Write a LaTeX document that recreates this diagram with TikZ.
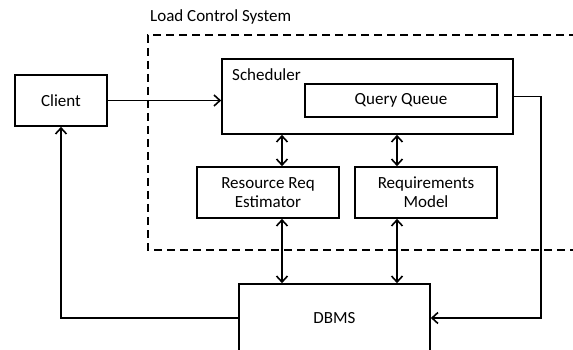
\documentclass[tikz,border=0pt]{standalone}
\usepackage{fontspec}
\setmainfont{Carlito}
\usetikzlibrary{arrows.meta}
\tikzset{
  box/.style={draw, line width=1.6pt, inner sep=0pt, font=\fontsize{17}{19}\selectfont},
  txt/.style={inner sep=0pt, font=\fontsize{17}{19}\selectfont},
  link/.style={line width=1.6pt, -{Straight Barb[length=6pt,width=11pt]}},
  biglink/.style={line width=1.6pt, {Straight Barb[length=6pt,width=11pt]}-{Straight Barb[length=6pt,width=11pt]}},
}
\begin{document}
\begin{tikzpicture}[x=1pt,y=-1pt]
\useasboundingbox (0,0) rectangle (573,350);
\clip (0,0) rectangle (573,350);
\node[txt, anchor=west] (lcs) at (150,17) {Load Control System};
\draw[line width=1.6pt, dash pattern=on 8pt off 5pt] (590,35) -- (148,35) -- (148,250) -- (590,250);
\node[box, minimum width=92pt, minimum height=51pt] (client) at (61,100.5) {Client};
\node[box, minimum width=291pt, minimum height=75pt] (sched) at (367.5,96.5) {};
\node[txt, anchor=west] (schedlbl) at (232,75) {Scheduler};
\node[box, minimum width=192pt, minimum height=33pt] (queue) at (401,100.5) {Query Queue};
\node[box, minimum width=142pt, minimum height=51pt, align=center] (resest) at (268,192.5) {Resource Req\\Estimator};
\node[box, minimum width=142pt, minimum height=51pt, align=center] (reqmod) at (426,192.5) {Requirements\\Model};
\node[box, minimum width=191pt, minimum height=68pt] (dbms) at (334.5,318) {DBMS};
\draw[link] (client.east) -- (client.east -| sched.west);
\draw[biglink] ([xshift=14pt]resest.north) -- ([xshift=14pt]resest.north |- sched.south);
\draw[biglink] ([xshift=-29pt]reqmod.north) -- ([xshift=-29pt]reqmod.north |- sched.south);
\draw[biglink] ([xshift=14pt]resest.south) -- ([xshift=14pt]resest.south |- dbms.north);
\draw[biglink] ([xshift=-29pt]reqmod.south) -- ([xshift=-29pt]reqmod.south |- dbms.north);
\draw[link] (sched.east) -- ++(27,0) |- (dbms.east);
\draw[link] (dbms.west) -| (client.south);
\end{tikzpicture}
\end{document}
